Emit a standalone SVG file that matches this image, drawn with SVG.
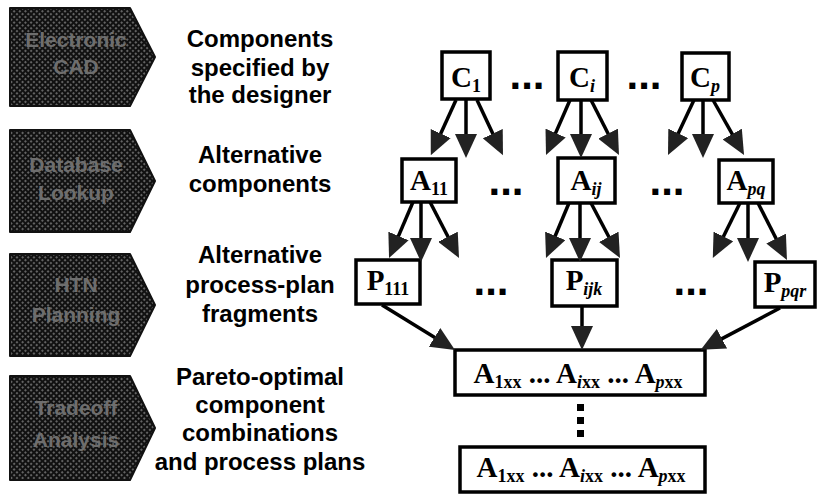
<svg xmlns="http://www.w3.org/2000/svg" width="821" height="495" viewBox="0 0 821 495">
<defs>
<pattern id="ht" width="4" height="4" patternUnits="userSpaceOnUse" patternTransform="rotate(45)">
<rect width="4" height="4" fill="#111"/>
<circle cx="2" cy="2" r="0.9" fill="#8a8a8a"/>
</pattern>
<marker id="ah" viewBox="0 0 24 22" refX="17" refY="11" markerWidth="24" markerHeight="22" markerUnits="userSpaceOnUse" orient="auto">
<path d="M0,0 L24,11 L0,22 z" fill="#222"/>
</marker>
<style>
.chev{fill:url(#ht);stroke:#111;stroke-width:2;stroke-linejoin:round}
.ct{font-family:"Liberation Sans",Arial,sans-serif;font-weight:bold;font-size:21px;fill:#6e6e6e;text-anchor:middle}
.lab{font-family:"Liberation Sans",Arial,sans-serif;font-weight:bold;font-size:24px;fill:#000;text-anchor:middle}
.box{fill:#fff;stroke:#000;stroke-width:3.5}
.n{font-family:"Liberation Serif","Times New Roman",serif;font-weight:bold;font-size:29px;fill:#000;text-anchor:middle}
.sub{font-size:18px}
.it{font-style:italic}
.dots{font-family:"Liberation Sans",Arial,sans-serif;font-weight:bold;font-size:42px;fill:#000;text-anchor:middle}
.c{stroke:#000;stroke-width:3.5;fill:none;marker-end:url(#ah)}
</style>
</defs>
<rect width="821" height="495" fill="#fff"/>

<g id="stage1">
<path class="chev" d="M10,8 L130,8 L155,57 L130,106 L10,106 z"/>
<text class="ct" x="76" y="47">Electronic</text>
<text class="ct" x="76" y="74">CAD</text>
</g>
<g id="stage2">
<path class="chev" d="M10,130 L130,130 L155,181 L130,232 L10,232 z"/>
<text class="ct" x="76" y="172">Database</text>
<text class="ct" x="76" y="200">Lookup</text>
</g>
<g id="stage3">
<path class="chev" d="M10,254 L130,254 L155,305 L130,356 L10,356 z"/>
<text class="ct" x="76" y="292">HTN</text>
<text class="ct" x="76" y="322">Planning</text>
</g>
<g id="stage4">
<path class="chev" d="M10,376 L130,376 L155,428 L130,480 L10,480 z"/>
<text class="ct" x="76" y="415">Tradeoff</text>
<text class="ct" x="76" y="447">Analysis</text>
</g>

<g id="label1">
<text class="lab" x="260" y="47">Components</text>
<text class="lab" x="260" y="76">specified by</text>
<text class="lab" x="260" y="103">the designer</text>
</g>
<g id="label2">
<text class="lab" x="260" y="163">Alternative</text>
<text class="lab" x="260" y="192">components</text>
</g>
<g id="label3">
<text class="lab" x="260" y="263">Alternative</text>
<text class="lab" x="260" y="293">process-plan</text>
<text class="lab" x="260" y="322">fragments</text>
</g>
<g id="label4">
<text class="lab" x="260" y="385">Pareto-optimal</text>
<text class="lab" x="260" y="413">component</text>
<text class="lab" x="260" y="441">combinations</text>
<text class="lab" x="260" y="470">and process plans</text>
</g>

<g id="C1"><rect class="box" x="442" y="52" width="48" height="47"/><text class="n" x="466" y="87">C<tspan class="sub" dy="5">1</tspan></text></g>
<g id="Ci"><rect class="box" x="558" y="52" width="49" height="48"/><text class="n" x="582" y="87">C<tspan class="sub it" dy="5">i</tspan></text></g>
<g id="Cp"><rect class="box" x="682" y="53" width="47" height="47"/><text class="n" x="705" y="87">C<tspan class="sub it" dy="5">p</tspan></text></g>
<g id="dotsC"><text class="dots" x="527" y="89">...</text><text class="dots" x="644" y="89">...</text></g>

<g id="A11"><rect class="box" x="402" y="159" width="54" height="43"/><text class="n" x="429" y="190">A<tspan class="sub" dy="5">11</tspan></text></g>
<g id="Aij"><rect class="box" x="558" y="158" width="57" height="45"/><text class="n" x="586" y="190">A<tspan class="sub it" dy="5">ij</tspan></text></g>
<g id="Apq"><rect class="box" x="719" y="160" width="54" height="43"/><text class="n" x="746" y="190">A<tspan class="sub it" dy="5">pq</tspan></text></g>
<g id="dotsA"><text class="dots" x="506" y="195">...</text><text class="dots" x="667" y="195">...</text></g>

<g id="P111"><rect class="box" x="356" y="260" width="64" height="44"/><text class="n" x="388" y="290">P<tspan class="sub" dy="5">111</tspan></text></g>
<g id="Pijk"><rect class="box" x="552" y="260" width="65" height="46"/><text class="n" x="584" y="290">P<tspan class="sub it" dy="5">ijk</tspan></text></g>
<g id="Ppqr"><rect class="box" x="755" y="262" width="60" height="45"/><text class="n" x="785" y="292">P<tspan class="sub it" dy="5">pqr</tspan></text></g>
<g id="dotsP"><text class="dots" x="491" y="295">...</text><text class="dots" x="691" y="295">...</text></g>

<g id="Combo1"><rect class="box" x="455" y="350" width="250" height="45"/><text class="n" x="578" y="383">A<tspan class="sub" dy="5">1xx</tspan><tspan dy="-5"> ... A</tspan><tspan class="sub" dy="5"><tspan class="it">i</tspan>xx</tspan><tspan dy="-5"> ... A</tspan><tspan class="sub" dy="5"><tspan class="it">p</tspan>xx</tspan></text></g>
<g id="vdots"><rect x="577" y="404" width="7" height="7"/><rect x="577" y="417" width="7" height="7"/><rect x="577" y="430" width="7" height="7"/></g>
<g id="Combo2"><rect class="box" x="460" y="447" width="245" height="45"/><text class="n" x="581" y="477">A<tspan class="sub" dy="5">1xx</tspan><tspan dy="-5"> ... A</tspan><tspan class="sub" dy="5"><tspan class="it">i</tspan>xx</tspan><tspan dy="-5"> ... A</tspan><tspan class="sub" dy="5"><tspan class="it">p</tspan>xx</tspan></text></g>

<g id="connectors">
<line class="c" x1="456" y1="100" x2="433.7" y2="149"/>
<line class="c" x1="466" y1="100" x2="466" y2="151"/>
<line class="c" x1="477" y1="100" x2="500" y2="149"/>
<line class="c" x1="570" y1="100" x2="548.8" y2="148.6"/>
<line class="c" x1="581" y1="100" x2="581" y2="151"/>
<line class="c" x1="591" y1="100" x2="615.8" y2="148.8"/>
<line class="c" x1="694" y1="100" x2="671" y2="148.7"/>
<line class="c" x1="703" y1="100" x2="703" y2="151"/>
<line class="c" x1="713" y1="100" x2="740.6" y2="148.9"/>
<line class="c" x1="413" y1="202" x2="391.8" y2="251.6"/>
<line class="c" x1="421" y1="202" x2="421" y2="255"/>
<line class="c" x1="430" y1="202" x2="455.8" y2="251.8"/>
<line class="c" x1="569" y1="203" x2="548.7" y2="251.5"/>
<line class="c" x1="580" y1="203" x2="580" y2="255"/>
<line class="c" x1="591" y1="203" x2="616.7" y2="251.8"/>
<line class="c" x1="740" y1="203" x2="715.9" y2="251.7"/>
<line class="c" x1="748" y1="203" x2="748" y2="255"/>
<line class="c" x1="758" y1="203" x2="783.8" y2="253.8"/>
<line class="c" x1="382" y1="305" x2="449" y2="346.3"/>
<line class="c" x1="582" y1="307" x2="582" y2="343"/>
<line class="c" x1="780" y1="308" x2="706.9" y2="346.6"/>
</g>
</svg>
